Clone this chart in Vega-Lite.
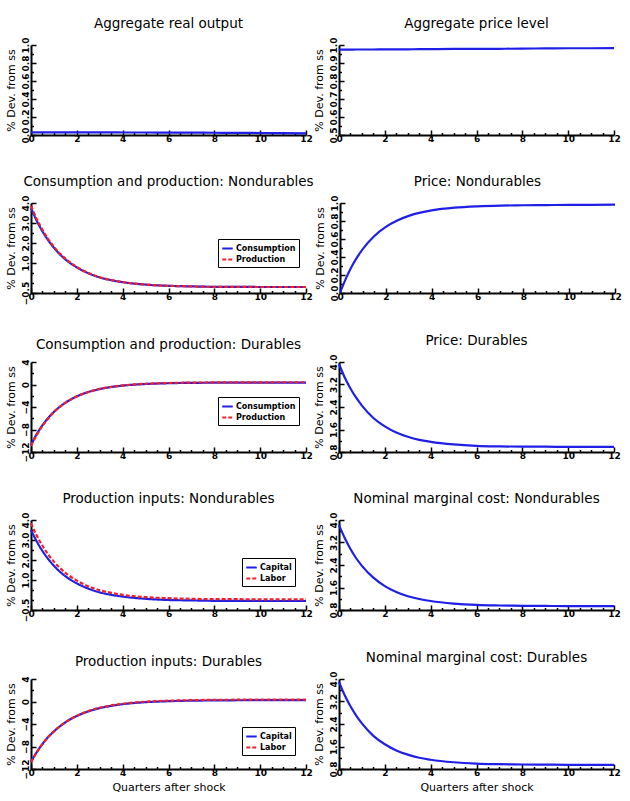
{
  "$schema": "https://vega.github.io/schema/vega-lite/v6.json",
  "background": "white",
  "padding": {"left": 5, "top": 16, "right": 0, "bottom": 2},
  "spacing": 28,
  "resolve": {"scale": {"color": "independent", "strokeDash": "independent"}, "legend": {"color": "independent", "strokeDash": "independent"}},
  "config": {
    "view": {"stroke": null},
    "axis": {
      "domainColor": "black", "domainWidth": 2, "tickColor": "black", "tickWidth": 1.5,
      "labelColor": "black", "labelFont": "DejaVu Sans", "labelFontSize": 9, "labelFontWeight": "bold",
      "grid": false, "titleFont": "DejaVu Sans", "titleFontWeight": "normal",
      "titleFontSize": 11, "titleColor": "black", "labelFlush": false, "labelOverlap": false
    },
    "axisX": {"labelPadding": 4},
    "axisY": {"labelPadding": 6},
    "title": {"font": "DejaVu Sans", "fontSize": 13.5, "fontWeight": "normal", "color": "black", "anchor": "middle", "frame": "group", "offset": 7},
    "legend": {
      "strokeColor": "black", "fillColor": "white", "padding": 3, "symbolType": "stroke",
      "symbolStrokeWidth": 2.5, "symbolSize": 110, "labelFont": "DejaVu Sans", "labelFontSize": 8,
      "labelFontWeight": "bold", "labelColor": "black", "rowPadding": 0, "labelOffset": 2, "cornerRadius": 0
    },
    "line": {"strokeWidth": 2.2, "interpolate": "monotone", "color": "#1f1fe6"}
  },
  "datasets": {
    "output": [
      {"t":0,"v":0.030},{"t":0.25,"v":0.030},{"t":0.5,"v":0.030},{"t":0.75,"v":0.030},{"t":1,"v":0.030},{"t":1.5,"v":0.030},{"t":2,"v":0.029},{"t":2.5,"v":0.029},{"t":3,"v":0.029},{"t":3.5,"v":0.029},{"t":4,"v":0.028},{"t":5,"v":0.028},{"t":6,"v":0.027},{"t":7,"v":0.026},{"t":8,"v":0.025},{"t":9,"v":0.024},{"t":10,"v":0.022},{"t":11,"v":0.020},{"t":12,"v":0.018}
    ],
    "price": [
      {"t":0,"v":0.974},{"t":0.25,"v":0.974},{"t":0.5,"v":0.974},{"t":0.75,"v":0.975},{"t":1,"v":0.975},{"t":1.5,"v":0.975},{"t":2,"v":0.976},{"t":2.5,"v":0.976},{"t":3,"v":0.976},{"t":3.5,"v":0.977},{"t":4,"v":0.977},{"t":5,"v":0.978},{"t":6,"v":0.979},{"t":7,"v":0.979},{"t":8,"v":0.980},{"t":9,"v":0.981},{"t":10,"v":0.982},{"t":11,"v":0.982},{"t":12,"v":0.983}
    ],
    "cpNondur": [
      {"t":0,"v":3.75,"s":"Consumption"},{"t":0.25,"v":3.11,"s":"Consumption"},{"t":0.5,"v":2.58,"s":"Consumption"},{"t":0.75,"v":2.14,"s":"Consumption"},{"t":1,"v":1.76,"s":"Consumption"},{"t":1.5,"v":1.18,"s":"Consumption"},{"t":2,"v":0.78,"s":"Consumption"},{"t":2.5,"v":0.49,"s":"Consumption"},{"t":3,"v":0.28,"s":"Consumption"},{"t":3.5,"v":0.14,"s":"Consumption"},{"t":4,"v":0.04,"s":"Consumption"},{"t":5,"v":-0.08,"s":"Consumption"},{"t":6,"v":-0.14,"s":"Consumption"},{"t":7,"v":-0.17,"s":"Consumption"},{"t":8,"v":-0.19,"s":"Consumption"},{"t":9,"v":-0.19,"s":"Consumption"},{"t":10,"v":-0.20,"s":"Consumption"},{"t":11,"v":-0.20,"s":"Consumption"},{"t":12,"v":-0.20,"s":"Consumption"},
      {"t":0,"v":3.85,"s":"Production"},{"t":0.25,"v":3.20,"s":"Production"},{"t":0.5,"v":2.66,"s":"Production"},{"t":0.75,"v":2.20,"s":"Production"},{"t":1,"v":1.81,"s":"Production"},{"t":1.5,"v":1.22,"s":"Production"},{"t":2,"v":0.80,"s":"Production"},{"t":2.5,"v":0.50,"s":"Production"},{"t":3,"v":0.29,"s":"Production"},{"t":3.5,"v":0.15,"s":"Production"},{"t":4,"v":0.05,"s":"Production"},{"t":5,"v":-0.08,"s":"Production"},{"t":6,"v":-0.14,"s":"Production"},{"t":7,"v":-0.17,"s":"Production"},{"t":8,"v":-0.19,"s":"Production"},{"t":9,"v":-0.19,"s":"Production"},{"t":10,"v":-0.20,"s":"Production"},{"t":11,"v":-0.20,"s":"Production"},{"t":12,"v":-0.20,"s":"Production"}
    ],
    "priceNondur": [
      {"t":0,"v":0.0},{"t":0.25,"v":0.157},{"t":0.5,"v":0.288},{"t":0.75,"v":0.398},{"t":1,"v":0.491},{"t":1.5,"v":0.634},{"t":2,"v":0.735},{"t":2.5,"v":0.806},{"t":3,"v":0.857},{"t":3.5,"v":0.893},{"t":4,"v":0.918},{"t":5,"v":0.948},{"t":6,"v":0.963},{"t":7,"v":0.971},{"t":8,"v":0.975},{"t":9,"v":0.977},{"t":10,"v":0.979},{"t":11,"v":0.980},{"t":12,"v":0.981}
    ],
    "cpDur": [
      {"t":0,"v":-10.70,"s":"Consumption"},{"t":0.25,"v":-8.81,"s":"Consumption"},{"t":0.5,"v":-7.24,"s":"Consumption"},{"t":0.75,"v":-5.95,"s":"Consumption"},{"t":1,"v":-4.87,"s":"Consumption"},{"t":1.5,"v":-3.24,"s":"Consumption"},{"t":2,"v":-2.11,"s":"Consumption"},{"t":2.5,"v":-1.34,"s":"Consumption"},{"t":3,"v":-0.81,"s":"Consumption"},{"t":3.5,"v":-0.45,"s":"Consumption"},{"t":4,"v":-0.20,"s":"Consumption"},{"t":5,"v":0.09,"s":"Consumption"},{"t":6,"v":0.23,"s":"Consumption"},{"t":7,"v":0.29,"s":"Consumption"},{"t":8,"v":0.32,"s":"Consumption"},{"t":9,"v":0.34,"s":"Consumption"},{"t":10,"v":0.34,"s":"Consumption"},{"t":11,"v":0.35,"s":"Consumption"},{"t":12,"v":0.35,"s":"Consumption"},
      {"t":0,"v":-10.90,"s":"Production"},{"t":0.25,"v":-8.97,"s":"Production"},{"t":0.5,"v":-7.36,"s":"Production"},{"t":0.75,"v":-6.04,"s":"Production"},{"t":1,"v":-4.93,"s":"Production"},{"t":1.5,"v":-3.27,"s":"Production"},{"t":2,"v":-2.12,"s":"Production"},{"t":2.5,"v":-1.33,"s":"Production"},{"t":3,"v":-0.79,"s":"Production"},{"t":3.5,"v":-0.41,"s":"Production"},{"t":4,"v":-0.17,"s":"Production"},{"t":5,"v":0.13,"s":"Production"},{"t":6,"v":0.27,"s":"Production"},{"t":7,"v":0.34,"s":"Production"},{"t":8,"v":0.37,"s":"Production"},{"t":9,"v":0.39,"s":"Production"},{"t":10,"v":0.39,"s":"Production"},{"t":11,"v":0.40,"s":"Production"},{"t":12,"v":0.40,"s":"Production"}
    ],
    "priceDur": [
      {"t":0,"v":3.93},{"t":0.25,"v":3.45},{"t":0.5,"v":3.06},{"t":0.75,"v":2.73},{"t":1,"v":2.45},{"t":1.5,"v":2.01},{"t":2,"v":1.71},{"t":2.5,"v":1.49},{"t":3,"v":1.34},{"t":3.5,"v":1.23},{"t":4,"v":1.16},{"t":5,"v":1.07},{"t":6,"v":1.02},{"t":7,"v":1.00},{"t":8,"v":0.99},{"t":9,"v":0.99},{"t":10,"v":0.98},{"t":11,"v":0.98},{"t":12,"v":0.98}
    ],
    "inNondur": [
      {"t":0,"v":3.50,"s":"Capital"},{"t":0.25,"v":2.93,"s":"Capital"},{"t":0.5,"v":2.45,"s":"Capital"},{"t":0.75,"v":2.05,"s":"Capital"},{"t":1,"v":1.71,"s":"Capital"},{"t":1.5,"v":1.19,"s":"Capital"},{"t":2,"v":0.83,"s":"Capital"},{"t":2.5,"v":0.57,"s":"Capital"},{"t":3,"v":0.38,"s":"Capital"},{"t":3.5,"v":0.26,"s":"Capital"},{"t":4,"v":0.17,"s":"Capital"},{"t":5,"v":0.06,"s":"Capital"},{"t":6,"v":0.00,"s":"Capital"},{"t":7,"v":-0.02,"s":"Capital"},{"t":8,"v":-0.04,"s":"Capital"},{"t":9,"v":-0.04,"s":"Capital"},{"t":10,"v":-0.05,"s":"Capital"},{"t":11,"v":-0.05,"s":"Capital"},{"t":12,"v":-0.05,"s":"Capital"},
      {"t":0,"v":3.83,"s":"Labor"},{"t":0.25,"v":3.22,"s":"Labor"},{"t":0.5,"v":2.71,"s":"Labor"},{"t":0.75,"v":2.28,"s":"Labor"},{"t":1,"v":1.92,"s":"Labor"},{"t":1.5,"v":1.36,"s":"Labor"},{"t":2,"v":0.97,"s":"Labor"},{"t":2.5,"v":0.69,"s":"Labor"},{"t":3,"v":0.49,"s":"Labor"},{"t":3.5,"v":0.36,"s":"Labor"},{"t":4,"v":0.26,"s":"Labor"},{"t":5,"v":0.14,"s":"Labor"},{"t":6,"v":0.09,"s":"Labor"},{"t":7,"v":0.06,"s":"Labor"},{"t":8,"v":0.04,"s":"Labor"},{"t":9,"v":0.04,"s":"Labor"},{"t":10,"v":0.03,"s":"Labor"},{"t":11,"v":0.03,"s":"Labor"},{"t":12,"v":0.03,"s":"Labor"}
    ],
    "mcNondur": [
      {"t":0,"v":3.82},{"t":0.25,"v":3.36},{"t":0.5,"v":2.97},{"t":0.75,"v":2.64},{"t":1,"v":2.37},{"t":1.5,"v":1.95},{"t":2,"v":1.65},{"t":2.5,"v":1.44},{"t":3,"v":1.29},{"t":3.5,"v":1.19},{"t":4,"v":1.12},{"t":5,"v":1.03},{"t":6,"v":0.98},{"t":7,"v":0.96},{"t":8,"v":0.95},{"t":9,"v":0.945},{"t":10,"v":0.94},{"t":11,"v":0.94},{"t":12,"v":0.94}
    ],
    "inDur": [
      {"t":0,"v":-10.70,"s":"Capital"},{"t":0.25,"v":-8.99,"s":"Capital"},{"t":0.5,"v":-7.55,"s":"Capital"},{"t":0.75,"v":-6.32,"s":"Capital"},{"t":1,"v":-5.31,"s":"Capital"},{"t":1.5,"v":-3.71,"s":"Capital"},{"t":2,"v":-2.57,"s":"Capital"},{"t":2.5,"v":-1.76,"s":"Capital"},{"t":3,"v":-1.18,"s":"Capital"},{"t":3.5,"v":-0.78,"s":"Capital"},{"t":4,"v":-0.48,"s":"Capital"},{"t":5,"v":-0.12,"s":"Capital"},{"t":6,"v":0.05,"s":"Capital"},{"t":7,"v":0.15,"s":"Capital"},{"t":8,"v":0.19,"s":"Capital"},{"t":9,"v":0.22,"s":"Capital"},{"t":10,"v":0.23,"s":"Capital"},{"t":11,"v":0.23,"s":"Capital"},{"t":12,"v":0.24,"s":"Capital"},
      {"t":0,"v":-10.80,"s":"Labor"},{"t":0.25,"v":-9.06,"s":"Labor"},{"t":0.5,"v":-7.59,"s":"Labor"},{"t":0.75,"v":-6.34,"s":"Labor"},{"t":1,"v":-5.31,"s":"Labor"},{"t":1.5,"v":-3.68,"s":"Labor"},{"t":2,"v":-2.52,"s":"Labor"},{"t":2.5,"v":-1.70,"s":"Labor"},{"t":3,"v":-1.11,"s":"Labor"},{"t":3.5,"v":-0.70,"s":"Labor"},{"t":4,"v":-0.40,"s":"Labor"},{"t":5,"v":-0.03,"s":"Labor"},{"t":6,"v":0.15,"s":"Labor"},{"t":7,"v":0.24,"s":"Labor"},{"t":8,"v":0.29,"s":"Labor"},{"t":9,"v":0.32,"s":"Labor"},{"t":10,"v":0.33,"s":"Labor"},{"t":11,"v":0.33,"s":"Labor"},{"t":12,"v":0.34,"s":"Labor"}
    ],
    "mcDur": [
      {"t":0,"v":3.90},{"t":0.25,"v":3.42},{"t":0.5,"v":3.03},{"t":0.75,"v":2.70},{"t":1,"v":2.42},{"t":1.5,"v":1.98},{"t":2,"v":1.68},{"t":2.5,"v":1.46},{"t":3,"v":1.31},{"t":3.5,"v":1.20},{"t":4,"v":1.13},{"t":5,"v":1.04},{"t":6,"v":0.99},{"t":7,"v":0.97},{"t":8,"v":0.96},{"t":9,"v":0.955},{"t":10,"v":0.95},{"t":11,"v":0.95},{"t":12,"v":0.95}
    ]
  },
  "vconcat": [
    {
      "spacing": 0,
      "resolve": {"scale": {"color": "independent", "strokeDash": "independent"}, "legend": {"color": "independent", "strokeDash": "independent"}},
      "hconcat": [
        {
          "title": "Aggregate real output",
          "width": 275, "height": 90,
          "data": {"name": "output"},
          "mark": {"type": "line"},
          "encoding": {
            "x": {"field": "t", "type": "quantitative", "scale": {"domain": [0, 12], "nice": false},
              "axis": {"title": null, "values": [0,0.5,1,1.5,2,2.5,3,3.5,4,4.5,5,5.5,6,6.5,7,7.5,8,8.5,9,9.5,10,10.5,11,11.5,12], "labelExpr": "datum.value % 2 === 0 ? format(datum.value, 'd') : ''", "tickSize": {"condition": {"test": "datum.value % 2 === 0", "value": -5}, "value": -2.5}}},
            "y": {"field": "v", "type": "quantitative", "scale": {"domain": [0, 1], "nice": false, "zero": false},
              "axis": {"title": "% Dev. from ss", "titlePadding": 2, "values": [0,0.1,0.2,0.3,0.4,0.5,0.6,0.7,0.8,0.9,1], "labelExpr": "indexof([0,0.2,0.4,0.6,0.8,1], datum.value) >= 0 ? format(datum.value, '.1f') : ''", "tickSize": {"condition": {"test": "indexof([0,0.2,0.4,0.6,0.8,1], datum.value) >= 0", "value": -5}, "value": -2.5}, "labelAngle": -90, "labelAlign": "center", "labelBaseline": "bottom"}}
          }
        },
        {
          "title": "Aggregate price level",
          "width": 275, "height": 90,
          "data": {"name": "price"},
          "mark": {"type": "line"},
          "encoding": {
            "x": {"field": "t", "type": "quantitative", "scale": {"domain": [0, 12], "nice": false},
              "axis": {"title": null, "values": [0,0.5,1,1.5,2,2.5,3,3.5,4,4.5,5,5.5,6,6.5,7,7.5,8,8.5,9,9.5,10,10.5,11,11.5,12], "labelExpr": "datum.value % 2 === 0 ? format(datum.value, 'd') : ''", "tickSize": {"condition": {"test": "datum.value % 2 === 0", "value": -5}, "value": -2.5}}},
            "y": {"field": "v", "type": "quantitative", "scale": {"domain": [0.5, 1], "nice": false, "zero": false},
              "axis": {"title": "% Dev. from ss", "titlePadding": 2, "values": [0.5,0.55,0.6,0.65,0.7,0.75,0.8,0.85,0.9,0.95,1], "labelExpr": "indexof([0.5,0.6,0.7,0.8,0.9,1], datum.value) >= 0 ? format(datum.value, '.1f') : ''", "tickSize": {"condition": {"test": "indexof([0.5,0.6,0.7,0.8,0.9,1], datum.value) >= 0", "value": -5}, "value": -2.5}, "labelAngle": -90, "labelAlign": "center", "labelBaseline": "bottom"}}
          }
        }
      ]
    },
    {
      "spacing": 0,
      "resolve": {"scale": {"color": "independent", "strokeDash": "independent"}, "legend": {"color": "independent", "strokeDash": "independent"}},
      "hconcat": [
        {
          "title": "Consumption and production: Nondurables",
          "width": 275, "height": 90,
          "data": {"name": "cpNondur"},
          "mark": {"type": "line"},
          "encoding": {
            "x": {"field": "t", "type": "quantitative", "scale": {"domain": [0, 12], "nice": false},
              "axis": {"title": null, "values": [0,0.5,1,1.5,2,2.5,3,3.5,4,4.5,5,5.5,6,6.5,7,7.5,8,8.5,9,9.5,10,10.5,11,11.5,12], "labelExpr": "datum.value % 2 === 0 ? format(datum.value, 'd') : ''", "tickSize": {"condition": {"test": "datum.value % 2 === 0", "value": -5}, "value": -2.5}}},
            "y": {"field": "v", "type": "quantitative", "scale": {"domain": [-0.5, 4], "nice": false, "zero": false},
              "axis": {"title": "% Dev. from ss", "titlePadding": 2, "values": [-0.5,0,0.5,1,1.5,2,2.5,3,3.5,4], "labelExpr": "indexof([-0.5,1,2,3,4], datum.value) >= 0 ? format(datum.value, '.1f') : ''", "tickSize": {"condition": {"test": "indexof([-0.5,1,2,3,4], datum.value) >= 0", "value": -5}, "value": -2.5}, "labelAngle": -90, "labelAlign": "center", "labelBaseline": "bottom"}},
            "color": {"field": "s", "type": "nominal", "scale": {"domain": ["Consumption", "Production"], "range": ["#1f1fe6", "#f0202a"]},
              "legend": {"title": null, "orient": "none", "legendX": 187, "legendY": 36}},
            "strokeDash": {"field": "s", "type": "nominal", "scale": {"domain": ["Consumption", "Production"], "range": [[1, 0], [4, 2]]},
              "legend": {"title": null, "orient": "none", "legendX": 187, "legendY": 36}}
          }
        },
        {
          "title": "Price: Nondurables",
          "width": 275, "height": 90,
          "data": {"name": "priceNondur"},
          "mark": {"type": "line"},
          "encoding": {
            "x": {"field": "t", "type": "quantitative", "scale": {"domain": [0, 12], "nice": false},
              "axis": {"title": null, "values": [0,0.5,1,1.5,2,2.5,3,3.5,4,4.5,5,5.5,6,6.5,7,7.5,8,8.5,9,9.5,10,10.5,11,11.5,12], "labelExpr": "datum.value % 2 === 0 ? format(datum.value, 'd') : ''", "tickSize": {"condition": {"test": "datum.value % 2 === 0", "value": -5}, "value": -2.5}}},
            "y": {"field": "v", "type": "quantitative", "scale": {"domain": [0, 1], "nice": false, "zero": false},
              "axis": {"title": "% Dev. from ss", "titlePadding": 2, "values": [0,0.1,0.2,0.3,0.4,0.5,0.6,0.7,0.8,0.9,1], "labelExpr": "indexof([0,0.2,0.4,0.6,0.8,1], datum.value) >= 0 ? format(datum.value, '.1f') : ''", "tickSize": {"condition": {"test": "indexof([0,0.2,0.4,0.6,0.8,1], datum.value) >= 0", "value": -5}, "value": -2.5}, "labelAngle": -90, "labelAlign": "center", "labelBaseline": "bottom"}}
          }
        }
      ]
    },
    {
      "spacing": 0,
      "resolve": {"scale": {"color": "independent", "strokeDash": "independent"}, "legend": {"color": "independent", "strokeDash": "independent"}},
      "hconcat": [
        {
          "title": "Consumption and production: Durables",
          "width": 275, "height": 90,
          "data": {"name": "cpDur"},
          "mark": {"type": "line"},
          "encoding": {
            "x": {"field": "t", "type": "quantitative", "scale": {"domain": [0, 12], "nice": false},
              "axis": {"title": null, "values": [0,0.5,1,1.5,2,2.5,3,3.5,4,4.5,5,5.5,6,6.5,7,7.5,8,8.5,9,9.5,10,10.5,11,11.5,12], "labelExpr": "datum.value % 2 === 0 ? format(datum.value, 'd') : ''", "tickSize": {"condition": {"test": "datum.value % 2 === 0", "value": -5}, "value": -2.5}}},
            "y": {"field": "v", "type": "quantitative", "scale": {"domain": [-12, 4], "nice": false, "zero": false},
              "axis": {"title": "% Dev. from ss", "titlePadding": 2, "values": [-12,-10,-8,-6,-4,-2,0,2,4], "labelExpr": "indexof([-12,-8,-4,0,4], datum.value) >= 0 ? format(datum.value, 'd') : ''", "tickSize": {"condition": {"test": "indexof([-12,-8,-4,0,4], datum.value) >= 0", "value": -5}, "value": -2.5}, "labelAngle": -90, "labelAlign": "center", "labelBaseline": "bottom"}},
            "color": {"field": "s", "type": "nominal", "scale": {"domain": ["Consumption", "Production"], "range": ["#1f1fe6", "#f0202a"]},
              "legend": {"title": null, "orient": "none", "legendX": 187, "legendY": 35}},
            "strokeDash": {"field": "s", "type": "nominal", "scale": {"domain": ["Consumption", "Production"], "range": [[1, 0], [4, 2]]},
              "legend": {"title": null, "orient": "none", "legendX": 187, "legendY": 35}}
          }
        },
        {
          "title": "Price: Durables",
          "width": 275, "height": 90,
          "data": {"name": "priceDur"},
          "mark": {"type": "line"},
          "encoding": {
            "x": {"field": "t", "type": "quantitative", "scale": {"domain": [0, 12], "nice": false},
              "axis": {"title": null, "values": [0,0.5,1,1.5,2,2.5,3,3.5,4,4.5,5,5.5,6,6.5,7,7.5,8,8.5,9,9.5,10,10.5,11,11.5,12], "labelExpr": "datum.value % 2 === 0 ? format(datum.value, 'd') : ''", "tickSize": {"condition": {"test": "datum.value % 2 === 0", "value": -5}, "value": -2.5}}},
            "y": {"field": "v", "type": "quantitative", "scale": {"domain": [0.8, 4], "nice": false, "zero": false},
              "axis": {"title": "% Dev. from ss", "titlePadding": 2, "values": [0.8,1.2,1.6,2,2.4,2.8,3.2,3.6,4], "labelExpr": "indexof([0.8,1.6,2.4,3.2,4], datum.value) >= 0 ? format(datum.value, '.1f') : ''", "tickSize": {"condition": {"test": "indexof([0.8,1.6,2.4,3.2,4], datum.value) >= 0", "value": -5}, "value": -2.5}, "labelAngle": -90, "labelAlign": "center", "labelBaseline": "bottom"}}
          }
        }
      ]
    },
    {
      "spacing": 0,
      "resolve": {"scale": {"color": "independent", "strokeDash": "independent"}, "legend": {"color": "independent", "strokeDash": "independent"}},
      "hconcat": [
        {
          "title": "Production inputs: Nondurables",
          "width": 275, "height": 90,
          "data": {"name": "inNondur"},
          "mark": {"type": "line"},
          "encoding": {
            "x": {"field": "t", "type": "quantitative", "scale": {"domain": [0, 12], "nice": false},
              "axis": {"title": null, "values": [0,0.5,1,1.5,2,2.5,3,3.5,4,4.5,5,5.5,6,6.5,7,7.5,8,8.5,9,9.5,10,10.5,11,11.5,12], "labelExpr": "datum.value % 2 === 0 ? format(datum.value, 'd') : ''", "tickSize": {"condition": {"test": "datum.value % 2 === 0", "value": -5}, "value": -2.5}}},
            "y": {"field": "v", "type": "quantitative", "scale": {"domain": [-0.5, 4], "nice": false, "zero": false},
              "axis": {"title": "% Dev. from ss", "titlePadding": 2, "values": [-0.5,0,0.5,1,1.5,2,2.5,3,3.5,4], "labelExpr": "indexof([-0.5,1,2,3,4], datum.value) >= 0 ? format(datum.value, '.1f') : ''", "tickSize": {"condition": {"test": "indexof([-0.5,1,2,3,4], datum.value) >= 0", "value": -5}, "value": -2.5}, "labelAngle": -90, "labelAlign": "center", "labelBaseline": "bottom"}},
            "color": {"field": "s", "type": "nominal", "scale": {"domain": ["Capital", "Labor"], "range": ["#1f1fe6", "#f0202a"]},
              "legend": {"title": null, "orient": "none", "legendX": 211, "legendY": 38}},
            "strokeDash": {"field": "s", "type": "nominal", "scale": {"domain": ["Capital", "Labor"], "range": [[1, 0], [4, 2]]},
              "legend": {"title": null, "orient": "none", "legendX": 211, "legendY": 38}}
          }
        },
        {
          "title": "Nominal marginal cost: Nondurables",
          "width": 275, "height": 90,
          "data": {"name": "mcNondur"},
          "mark": {"type": "line"},
          "encoding": {
            "x": {"field": "t", "type": "quantitative", "scale": {"domain": [0, 12], "nice": false},
              "axis": {"title": null, "values": [0,0.5,1,1.5,2,2.5,3,3.5,4,4.5,5,5.5,6,6.5,7,7.5,8,8.5,9,9.5,10,10.5,11,11.5,12], "labelExpr": "datum.value % 2 === 0 ? format(datum.value, 'd') : ''", "tickSize": {"condition": {"test": "datum.value % 2 === 0", "value": -5}, "value": -2.5}}},
            "y": {"field": "v", "type": "quantitative", "scale": {"domain": [0.8, 4], "nice": false, "zero": false},
              "axis": {"title": "% Dev. from ss", "titlePadding": 2, "values": [0.8,1.2,1.6,2,2.4,2.8,3.2,3.6,4], "labelExpr": "indexof([0.8,1.6,2.4,3.2,4], datum.value) >= 0 ? format(datum.value, '.1f') : ''", "tickSize": {"condition": {"test": "indexof([0.8,1.6,2.4,3.2,4], datum.value) >= 0", "value": -5}, "value": -2.5}, "labelAngle": -90, "labelAlign": "center", "labelBaseline": "bottom"}}
          }
        }
      ]
    },
    {
      "spacing": 0,
      "resolve": {"scale": {"color": "independent", "strokeDash": "independent"}, "legend": {"color": "independent", "strokeDash": "independent"}},
      "hconcat": [
        {
          "title": "Production inputs: Durables",
          "width": 275, "height": 90,
          "data": {"name": "inDur"},
          "mark": {"type": "line"},
          "encoding": {
            "x": {"field": "t", "type": "quantitative", "scale": {"domain": [0, 12], "nice": false},
              "axis": {"title": "Quarters after shock", "titlePadding": 2, "values": [0,0.5,1,1.5,2,2.5,3,3.5,4,4.5,5,5.5,6,6.5,7,7.5,8,8.5,9,9.5,10,10.5,11,11.5,12], "labelExpr": "datum.value % 2 === 0 ? format(datum.value, 'd') : ''", "tickSize": {"condition": {"test": "datum.value % 2 === 0", "value": -5}, "value": -2.5}}},
            "y": {"field": "v", "type": "quantitative", "scale": {"domain": [-12, 4], "nice": false, "zero": false},
              "axis": {"title": "% Dev. from ss", "titlePadding": 2, "values": [-12,-10,-8,-6,-4,-2,0,2,4], "labelExpr": "indexof([-12,-8,-4,0,4], datum.value) >= 0 ? format(datum.value, 'd') : ''", "tickSize": {"condition": {"test": "indexof([-12,-8,-4,0,4], datum.value) >= 0", "value": -5}, "value": -2.5}, "labelAngle": -90, "labelAlign": "center", "labelBaseline": "bottom"}},
            "color": {"field": "s", "type": "nominal", "scale": {"domain": ["Capital", "Labor"], "range": ["#1f1fe6", "#f0202a"]},
              "legend": {"title": null, "orient": "none", "legendX": 211, "legendY": 48}},
            "strokeDash": {"field": "s", "type": "nominal", "scale": {"domain": ["Capital", "Labor"], "range": [[1, 0], [4, 2]]},
              "legend": {"title": null, "orient": "none", "legendX": 211, "legendY": 48}}
          }
        },
        {
          "title": "Nominal marginal cost: Durables",
          "width": 275, "height": 90,
          "data": {"name": "mcDur"},
          "mark": {"type": "line"},
          "encoding": {
            "x": {"field": "t", "type": "quantitative", "scale": {"domain": [0, 12], "nice": false},
              "axis": {"title": "Quarters after shock", "titlePadding": 2, "values": [0,0.5,1,1.5,2,2.5,3,3.5,4,4.5,5,5.5,6,6.5,7,7.5,8,8.5,9,9.5,10,10.5,11,11.5,12], "labelExpr": "datum.value % 2 === 0 ? format(datum.value, 'd') : ''", "tickSize": {"condition": {"test": "datum.value % 2 === 0", "value": -5}, "value": -2.5}}},
            "y": {"field": "v", "type": "quantitative", "scale": {"domain": [0.8, 4], "nice": false, "zero": false},
              "axis": {"title": "% Dev. from ss", "titlePadding": 2, "values": [0.8,1.2,1.6,2,2.4,2.8,3.2,3.6,4], "labelExpr": "indexof([0.8,1.6,2.4,3.2,4], datum.value) >= 0 ? format(datum.value, '.1f') : ''", "tickSize": {"condition": {"test": "indexof([0.8,1.6,2.4,3.2,4], datum.value) >= 0", "value": -5}, "value": -2.5}, "labelAngle": -90, "labelAlign": "center", "labelBaseline": "bottom"}}
          }
        }
      ]
    }
  ]
}
